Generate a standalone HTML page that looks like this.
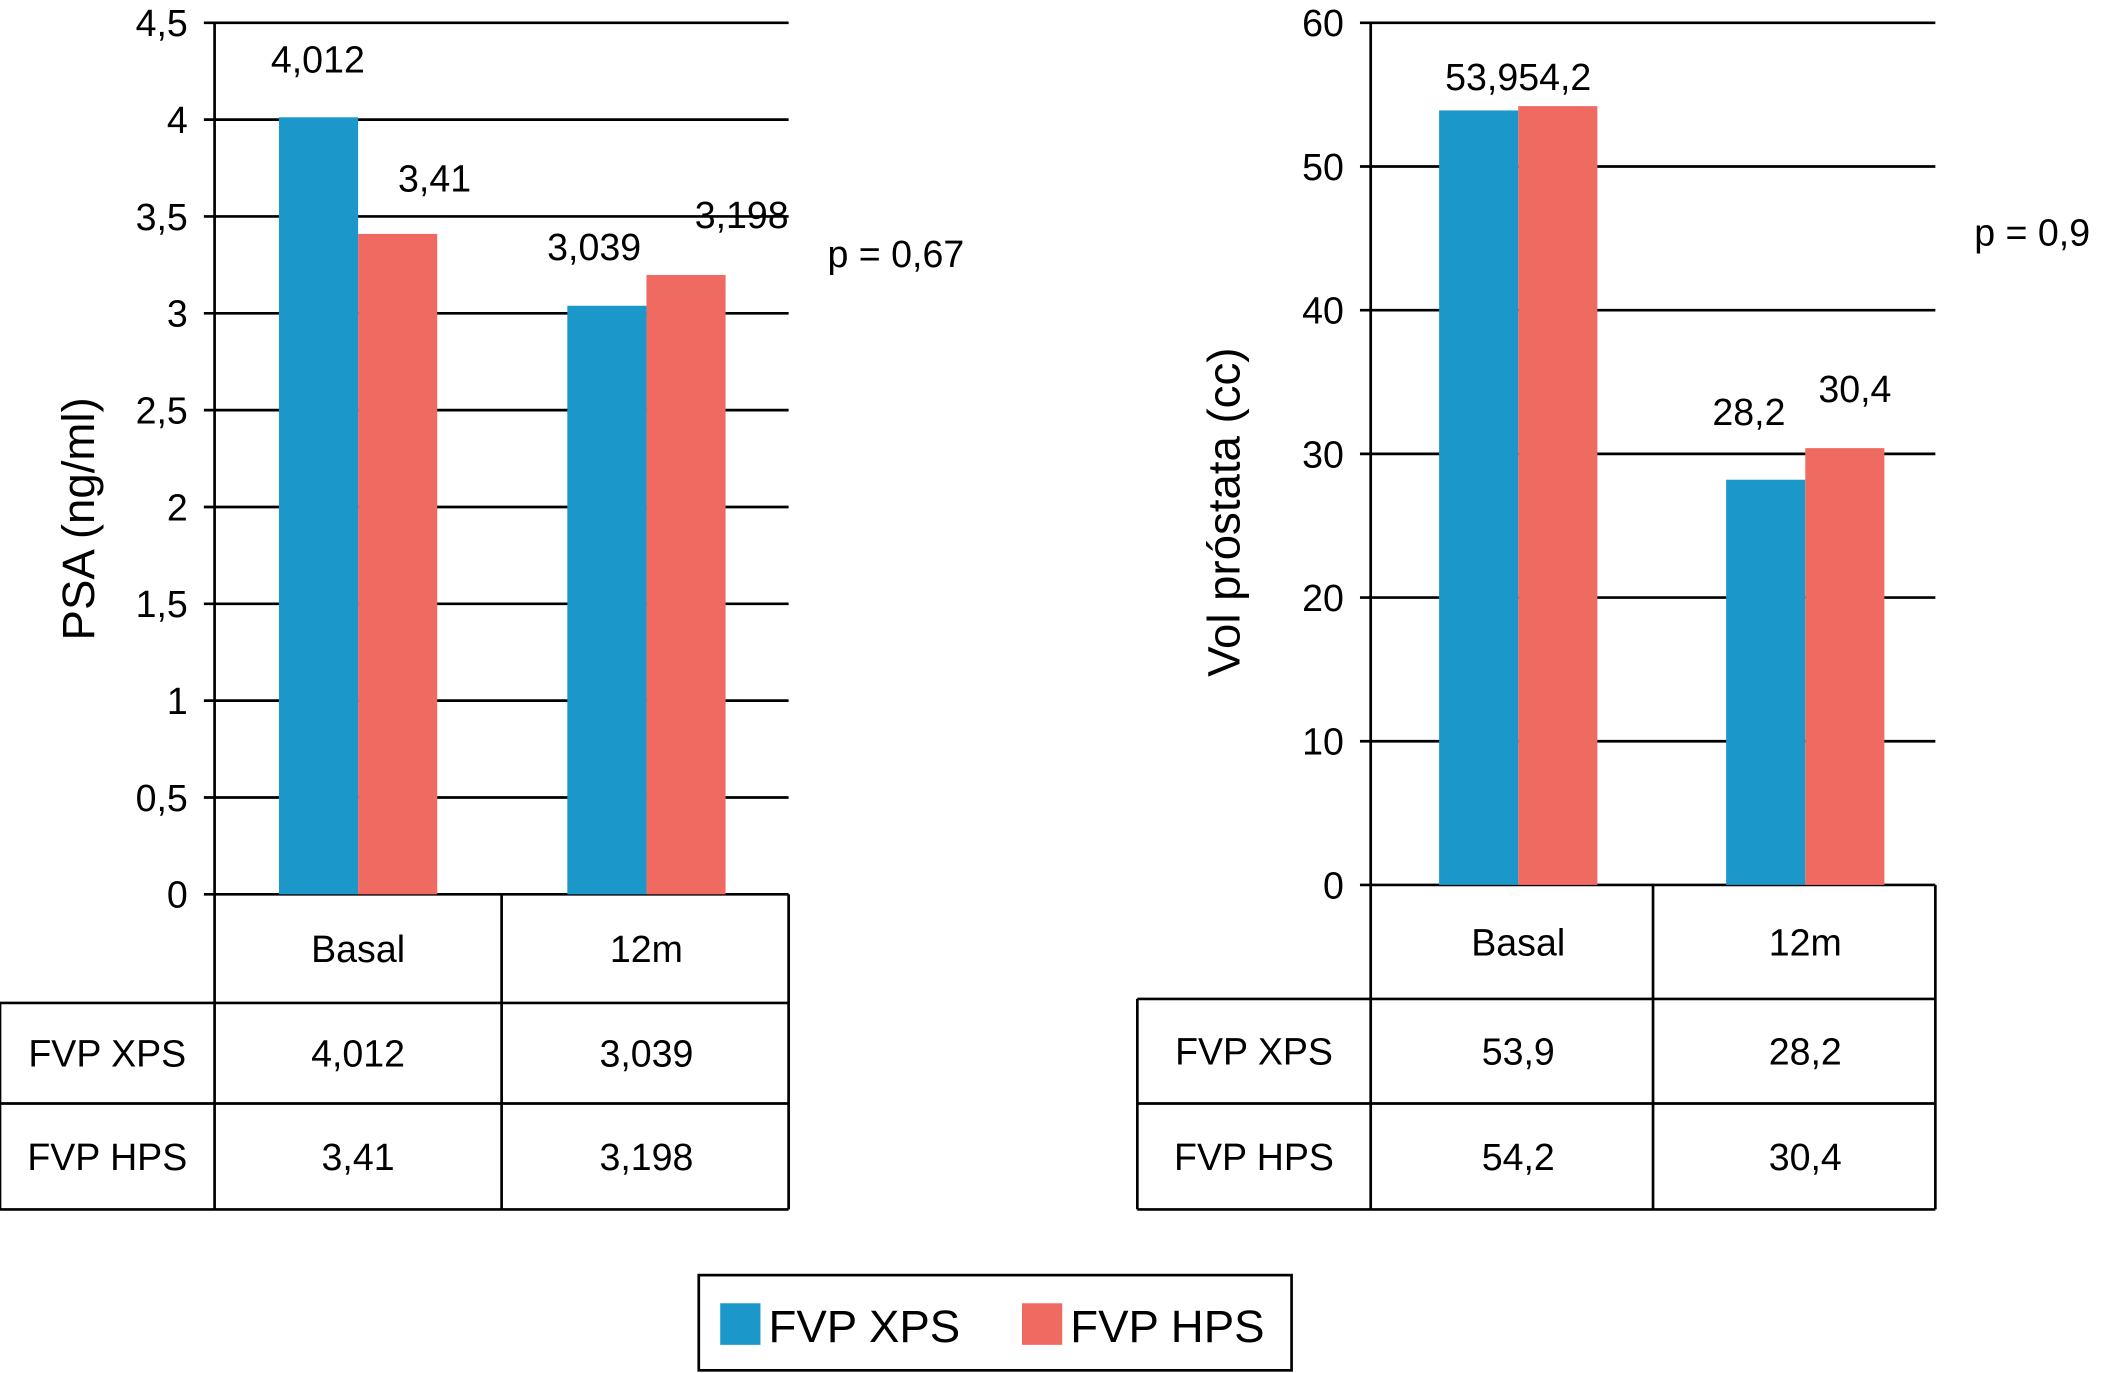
<!DOCTYPE html>
<html><head><meta charset="utf-8"><style>
html,body{margin:0;padding:0;background:#fff;}
svg{display:block;font-family:"Liberation Sans",Arial,sans-serif;}
</style></head><body>
<svg id="c" width="2103" height="1373" viewBox="0 0 1568 1024" preserveAspectRatio="none"></svg>
<script>
const categories = ["Basal", "12m"];
const psaXps = [4.012, 3.039];
const psaHps = [3.41, 3.198];
const psaXpsLabels = ["4,012", "3,039"];
const psaHpsLabels = ["3,41", "3,198"];
const psaTicks = ["0","0,5","1","1,5","2","2,5","3","3,5","4","4,5"];
const volXps = [53.9, 28.2];
const volHps = [54.2, 30.4];
const volXpsLabels = ["53,9", "28,2"];
const volHpsLabels = ["54,2", "30,4"];
const volTicks = ["0","10","20","30","40","50","60"];
const seriesNames = ["FVP XPS", "FVP HPS"];

const NS = "http://www.w3.org/2000/svg";
const svg = document.getElementById("c");
const BLUE = "#1b97ca", RED = "#ef6a61";
function el(tag, attrs, text) {
  const e = document.createElementNS(NS, tag);
  for (const k in attrs) e.setAttribute(k, attrs[k]);
  if (text !== undefined) e.textContent = text;
  svg.appendChild(e);
  return e;
}

function chart(o) {
  const yScale = v => o.y0 - (v / o.max) * (o.y0 - o.yTop);
  o.ticks.forEach((t, i) => {
    const v = i * o.step, y = yScale(v);
    const g = el("line", {x1: o.x0 - 8, x2: o.xEnd, y1: y, y2: y, stroke: "#000", "stroke-width": 2});
    
    
    const tl = el("text", {x: o.x0 - 20, y: y + 10, "font-size": 28, "text-anchor": "end"}, t);
    
    
  });
  const ax = el("line", {x1: o.x0, x2: o.x0, y1: o.yTop, y2: o.y0, stroke: "#000", "stroke-width": 2});
  
  
  const catW = (o.xEnd - o.x0) / categories.length;
  const bw = 59;
  categories.forEach((c, i) => {
    const cx = o.centers[i];
    [[o.s1, BLUE, o.l1, -1], [o.s2, RED, o.l2, 0]].forEach(([s, col, lab, off], k) => {
      const x = cx + off * bw, y = yScale(s[i]);
      const r = el("rect", {x: x, y: y, width: bw, height: o.y0 - y, fill: col});
      
      
      const lp = o.labelPos[i][k];
      const t = el("text", {x: lp[0], y: lp[1], "font-size": 28, "text-anchor": lp[2] || "middle"}, lab[i]);
      
      
    });
  });
  const yt = el("text", {x: o.titleX, y: o.titleY, "font-size": 34, "text-anchor": "middle", transform: `rotate(-90 ${o.titleX} ${o.titleY})`}, o.title);
  
  
  const p = el("text", {x: o.pX, y: o.pY, "font-size": 28}, o.p);
  
  
  const ln = (x1,y1,x2,y2) => { const l = el("line",{x1,y1,x2,y2,stroke:"#000","stroke-width":2});   };
  const mid = o.x0 + catW;
  ln(o.x0, o.y0, o.x0, o.r3); ln(mid, o.y0, mid, o.r3); ln(o.xEnd, o.y0, o.xEnd, o.r3);
  ln(o.tL, o.r1, o.tL, o.r3);
  ln(o.tL, o.r1, o.xEnd, o.r1); ln(o.tL, o.r2, o.xEnd, o.r2); ln(o.tL, o.r3, o.xEnd, o.r3);
  categories.forEach((c, i) => {
    const cx = o.centers[i];
    const h = el("text", {x: cx, y: (o.y0 + o.r1) / 2 + 10, "font-size": 28, "text-anchor": "middle"}, c);
    
    
    [0, 1].forEach(k => {
      const ya = k ? (o.r2 + o.r3) / 2 : (o.r1 + o.r2) / 2;
      const t = el("text", {x: cx, y: ya + 10, "font-size": 28, "text-anchor": "middle"}, k ? o.t2[i] : o.t1[i]);
      
      
    });
  });
  seriesNames.forEach((s, k) => {
    const ya = k ? (o.r2 + o.r3) / 2 : (o.r1 + o.r2) / 2;
    const t = el("text", {x: (o.tL + o.x0) / 2, y: ya + 10, "font-size": 28, "text-anchor": "middle"}, s);
    
    
  });
}

chart({x0:160, xEnd:588, yTop:17, y0:667, max:4.5, step:0.5, ticks:psaTicks, s1:psaXps, s2:psaHps, l1:psaXpsLabels, l2:psaHpsLabels,
  t1:psaXpsLabels, t2:psaHpsLabels, centers:[267, 482],
  labelPos:[[[237,54],[324,143]],[[443,194],[553,170]]],
  title:"PSA (ng/ml)", titleX:70, titleY:387, p:"p = 0,67", pX:617, pY:199,
  tL:0, r1:748, r2:823, r3:902});
chart({x0:1022, xEnd:1443, yTop:17, y0:660, max:60, step:10, ticks:volTicks, s1:volXps, s2:volHps, l1:volXpsLabels, l2:volHpsLabels,
  t1:volXpsLabels, t2:volHpsLabels, centers:[1132, 1346],
  labelPos:[[[1132,67,"end"],[1132,67,"start"]],[[1304,317],[1383,300]]],
  title:"Vol próstata (cc)", titleX:924, titleY:382, p:"p = 0,9", pX:1472, pY:183,
  tL:848, r1:745, r2:823, r3:902});

const lb = el("rect", {x:521, y:951, width:442, height:71, fill:"#fff", stroke:"#000", "stroke-width":2});


[[537, BLUE, 573], [762, RED, 798]].forEach(([x, col, tx], k) => {
  const r = el("rect", {x:x, y:972, width:30, height:31, fill:col});
  
  
  const t = el("text", {x:tx, y:1001, "font-size":34}, seriesNames[k]);
  
  
});
</script>
</body></html>
